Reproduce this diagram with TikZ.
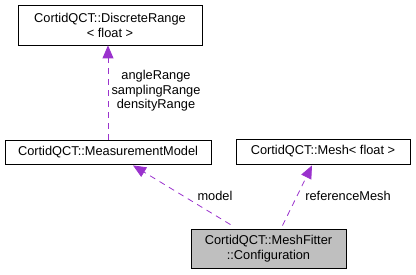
\documentclass[tikz,border=0pt]{standalone}
\usepackage{fontspec}
\setmainfont{Liberation Sans}
\usetikzlibrary{arrows.meta,calc}
\definecolor{orchid}{HTML}{9A32CD}
\definecolor{nodegray}{HTML}{BFBFBF}
\begin{document}
\begin{tikzpicture}[x=1pt,y=-1pt,
  classbox/.style={draw=black,fill=white,line width=0.8pt,inner sep=0pt,font=\fontsize{12.8}{15}\selectfont,align=center},
  usage/.style={draw=orchid,line width=0.8pt,dash pattern=on 6pt off 5pt,-{Triangle[length=13pt,width=11pt,fill=orchid]}},
  lbl/.style={font=\fontsize{12.8}{14.6}\selectfont,inner sep=0pt,align=center}]
\useasboundingbox (0,0) rectangle (416,275);
% class boxes
\node[classbox,minimum width=184pt,minimum height=40pt] (range) at (110,25) {CortidQCT::DiscreteRange\\ \textless{} float \textgreater};
\node[classbox,minimum width=206pt,minimum height=24pt] (model) at (108,152) {CortidQCT::MeasurementModel};
\node[classbox,minimum width=174pt,minimum height=25pt] (mesh) at (323,151.5) {CortidQCT::Mesh\textless{} float \textgreater};
\node[classbox,fill=nodegray,minimum width=155pt,minimum height=39pt] (config) at (268.5,248.5) {CortidQCT::MeshFitter\\ ::Configuration};
% connector end points
\coordinate (rangeIn) at (range.south -| 108,0);
\coordinate (modelOut) at (model.north -| 108,0);
\coordinate (modelIn) at ($(model.south)+(25,1)$);
\coordinate (meshIn) at ($(mesh.south)+(-11,1)$);
\coordinate (cfgA) at ($(config.north)+(-38,-4)$);
\coordinate (cfgB) at ($(config.north)+(14,-3)$);
% usage relations
\draw[usage] (modelOut) -- (rangeIn);
\draw[usage] (cfgA) -- (modelIn);
\draw[usage] (cfgB) -- (meshIn);
% member names
\node[lbl] (rangeNames) at (156,91) {angleRange\\samplingRange\\densityRange};
\node[lbl] (modelName) at (215,196) {model};
\node[lbl] (meshName) at (348,196) {referenceMesh};
\end{tikzpicture}
\end{document}
